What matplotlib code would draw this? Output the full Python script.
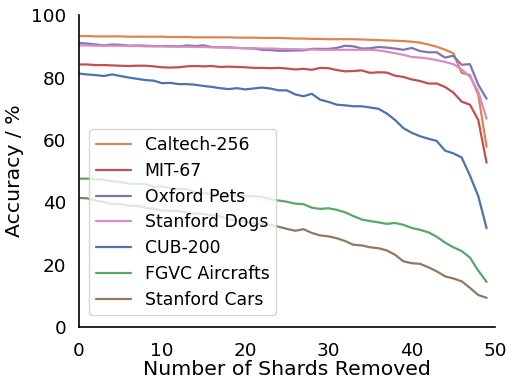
#!/usr/bin/env python3

import numpy as np
import seaborn as sns
from matplotlib import pyplot as plt

shards = np.arange(0, 50)

caltech = [93.3, 93.3, 93.2, 93.2, 93.2, 93.2, 93.1, 93.1, 93.1, 93.1,
           93.1, 93.0, 93.0, 93.0, 92.9, 92.9, 92.9, 92.9, 92.9, 92.8,
           92.8, 92.8, 92.7, 92.7, 92.7, 92.6, 92.5, 92.5, 92.4, 92.4,
           92.3, 92.3, 92.3, 92.3, 92.2, 92.1, 92.0, 91.9, 91.8, 91.7,
           91.5, 91.2, 90.6, 89.9, 88.9, 87.8, 81.5, 80.8, 74.5, 57.8]
mit67 = [84.2, 84.2, 84.0, 84.0, 83.9, 83.8, 83.7, 83.8, 83.8, 83.6,
         83.3, 83.2, 83.3, 83.6, 83.7, 83.6, 83.7, 83.4, 83.5, 83.4,
         83.3, 83.1, 83.1, 83.0, 83.1, 82.9, 82.6, 82.8, 82.5, 83.1,
         83.0, 82.4, 82.0, 82.1, 82.3, 81.5, 81.7, 81.6, 80.6, 80.2,
         79.4, 78.9, 78.1, 78.1, 77.0, 75.2, 72.3, 71.3, 66.4, 52.7]
oxford_pets = [91.1, 90.9, 90.6, 90.3, 90.6, 90.5, 90.2, 90.3, 90.2, 90.1,
               90.1, 90.1, 90.0, 90.3, 90.1, 90.3, 89.8, 89.7, 89.7, 89.5,
               89.4, 89.3, 88.9, 88.8, 88.6, 88.6, 88.7, 88.7, 89.2, 89.2,
               89.2, 89.5, 90.2, 90.0, 89.3, 89.4, 89.8, 89.6, 89.3, 88.9,
               89.5, 88.5, 88.1, 88.1, 86.4, 87.0, 84.1, 84.3, 77.7, 73.2]
stanford_dogs = [90.3, 90.3, 90.2, 90.2, 90.2, 90.2, 90.1, 90.1, 90.0, 90.0,
                 90.0, 89.9, 89.9, 89.9, 89.8, 89.8, 89.7, 89.7, 89.6, 89.5,
                 89.4, 89.4, 89.3, 89.3, 89.2, 89.1, 89.1, 89.0, 89.0, 88.9,
                 88.9, 88.9, 88.9, 88.9, 88.9, 88.9, 88.7, 88.3, 87.8, 87.3,
                 86.6, 86.4, 86.1, 85.6, 85.0, 84.3, 82.6, 80.3, 75.5, 66.8]
cub200 = [81.3, 81.0, 80.8, 80.5, 81.0, 80.5, 80.0, 79.6, 79.2, 79.0,
          78.2, 78.3, 77.9, 77.9, 77.7, 77.3, 77.0, 76.6, 76.3, 76.6,
          76.2, 76.5, 76.8, 76.5, 75.9, 75.9, 74.6, 74.0, 74.8, 72.9,
          72.2, 71.3, 71.1, 70.8, 70.8, 70.4, 70.0, 68.5, 66.4, 63.8,
          62.3, 61.2, 60.4, 59.7, 56.6, 55.7, 54.4, 48.6, 42.0, 31.7]
fgvc_aircraft = [47.6, 47.6, 47.4, 47.2, 46.8, 46.5, 46.0, 45.9, 45.9, 45.0,
                 45.1, 44.6, 44.3, 44.3, 43.2, 43.0, 42.7, 42.4, 42.2, 42.2,
                 42.0, 42.0, 41.8, 41.0, 40.6, 40.2, 39.6, 39.4, 38.3, 37.9,
                 38.1, 37.6, 36.8, 35.6, 34.5, 34.0, 33.6, 33.1, 33.4, 32.8,
                 31.8, 31.2, 30.4, 29.0, 27.1, 25.6, 24.4, 22.3, 18.1, 14.5]
stanford_cars = [41.4, 41.3, 40.6, 40.1, 39.4, 39.5, 38.9, 38.9, 38.3, 37.9,
                 37.4, 37.3, 37.2, 36.8, 36.4, 36.3, 35.8, 35.5, 34.6, 34.2,
                 33.8, 33.4, 33.1, 32.8, 32.2, 31.5, 30.9, 31.4, 30.2, 29.4,
                 29.1, 28.5, 27.6, 26.4, 26.2, 25.6, 25.3, 24.6, 23.2, 21.1,
                 20.5, 20.3, 19.2, 17.9, 16.3, 15.6, 14.7, 12.6, 10.3, 9.4]

names = ['Caltech-256', 'MIT-67', 'Oxford Pets', 'Stanford Dogs',
         'CUB-200', 'FGVC Aircrafts', 'Stanford Cars']
series = [caltech, mit67, oxford_pets, stanford_dogs,
          cub200, fgvc_aircraft, stanford_cars]


if __name__ == '__main__':
  sns.set_theme(style='white')
  plt.rcParams['font.family'] = ['DejaVu Sans']
  plt.rcParams['text.color'] = 'black'
  plt.rcParams['xtick.color'] = 'black'
  plt.rcParams['ytick.color'] = 'black'
  pal = sns.color_palette('deep')
  colors = [pal[1], pal[3], pal[4], pal[6], pal[0], pal[2], pal[5]]

  fig = plt.figure(figsize=(5.15, 3.89), dpi=100)
  ax = fig.add_axes([0.153, 0.159, 0.808, 0.802])
  for name, vals, c in zip(names, series, colors):
    ax.plot(shards, vals, label=name, color=c, lw=1.6)

  ax.set_xlim(0, 50)
  ax.set_ylim(0, 100)
  ax.set_xticks(np.arange(0, 51, 10))
  ax.set_yticks(np.arange(0, 101, 20))
  ax.tick_params(labelsize=13.2)
  ax.tick_params(axis='x', pad=5)
  ax.tick_params(axis='y', pad=3)
  ax.set_xlabel('Number of Shards Removed', fontsize=14.7, labelpad=0, color='black')
  ax.set_ylabel('Accuracy / %', fontsize=14.7, labelpad=5, color='black')
  for s in ['left', 'bottom']:
    ax.spines[s].set_color('black')
    ax.spines[s].set_linewidth(1.2)
  sns.despine(ax=ax)
  ax.legend(loc='lower left', fontsize=12.4, bbox_to_anchor=(0.005, 0.01),
            handlelength=2.0, labelspacing=0.45, borderpad=0.4)

  plt.savefig('out.png', dpi=100)
